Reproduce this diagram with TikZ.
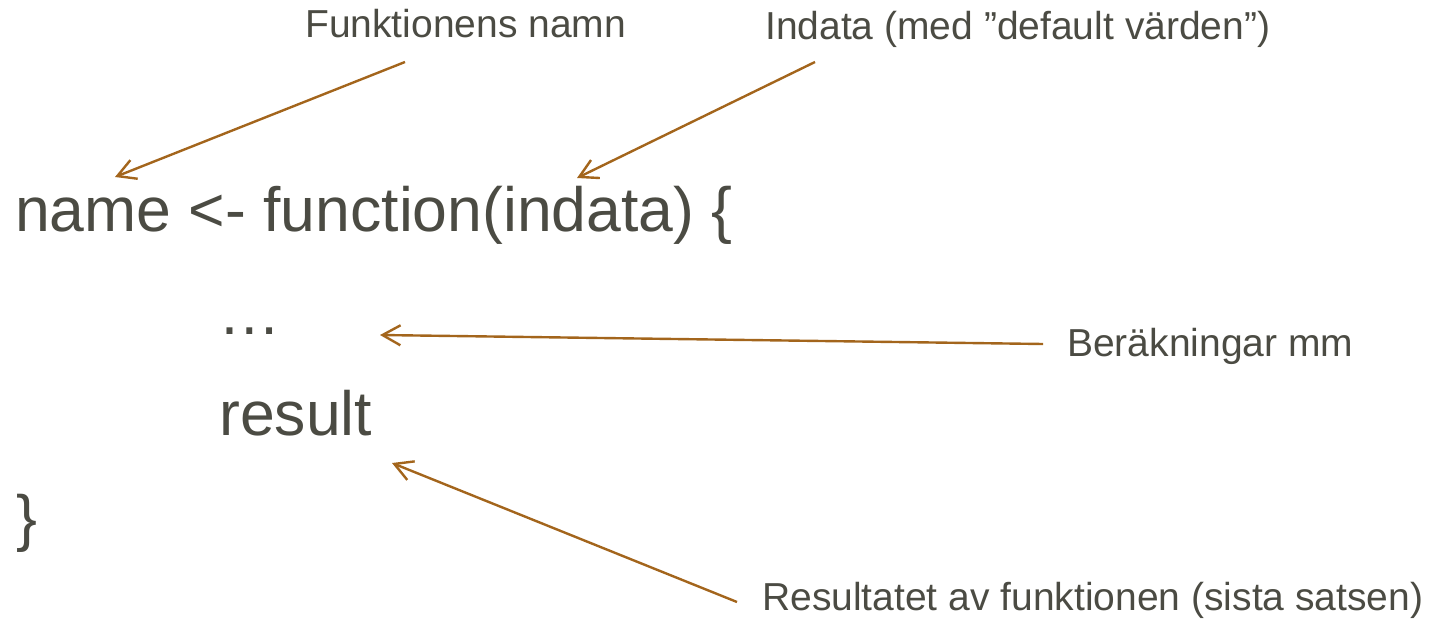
\documentclass[tikz,border=0pt]{standalone}
\usepackage{fontspec}
\setmainfont{Liberation Sans}
\usetikzlibrary{arrows.meta}
\definecolor{codegray}{HTML}{4B4B43}
\definecolor{notebrown}{HTML}{A3651C}
\tikzset{
  code/.style={anchor=base west, inner sep=0pt, text=codegray,
    font=\fontsize{62.5}{70}\selectfont},
  note/.style={anchor=base west, inner sep=0pt, text=codegray,
    font=\fontsize{39}{46}\selectfont},
  pointer/.style={draw=notebrown, line width=2.4pt,
    -{Straight Barb[length=18pt, width=20pt, line width=2.4pt]}}
}
\begin{document}
\begin{tikzpicture}[x=1pt, y=-1pt]
  \useasboundingbox (0,0) rectangle (1434,623);

  % the R code
  \node[code] (head) at (15,231) {name <- function(indata) \{};
  \node[code] (dots) at (218,334) {\ldots};
  \node[code] (res)  at (219,435) {result};
  \node[code] (close) at (16,539) {\}};

  % explanations
  \node[note] (fname)  at (305,38) {Funktionens namn};
  \node[note] (fargs)  at (765,40) {Indata (med ”default värden”)};
  \node[note] (fbody)  at (1067,356) {Beräkningar mm};
  \node[note] (fres)   at (762,610) {Resultatet av funktionen (sista satsen)};

  % pointer ends
  \coordinate (s1) at (405,62);  \coordinate (t1) at (115,177);
  \coordinate (s2) at (815,62);  \coordinate (t2) at (577,178);
  \coordinate (s3) at (1043,344); \coordinate (t3) at (380,335);
  \coordinate (s4) at (737,602); \coordinate (t4) at (392,463);

  \draw[pointer] (s1) -- (t1);
  \draw[pointer] (s2) -- (t2);
  \draw[pointer] (s3) -- (t3);
  \draw[pointer] (s4) -- (t4);
\end{tikzpicture}
\end{document}
